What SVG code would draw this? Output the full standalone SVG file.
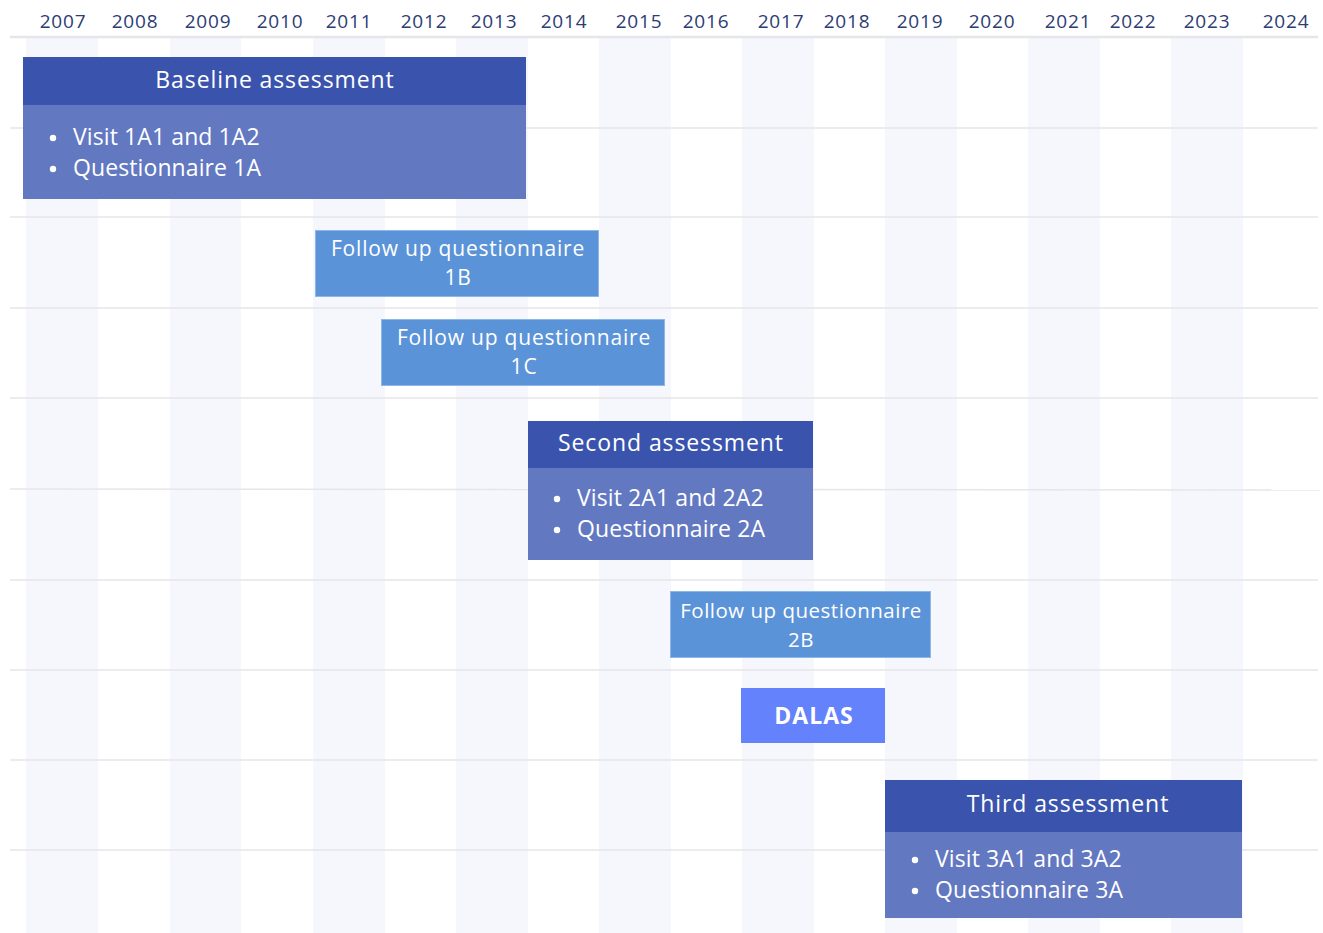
<svg xmlns="http://www.w3.org/2000/svg" width="1323" height="933" viewBox="0 0 1323 933">
<style>
.yr{font-family:"Open Sans","Liberation Sans",sans-serif;font-size:19px;letter-spacing:0.8px;fill:#2c3c74;text-anchor:middle}
.stripe{fill:#f5f7fd}
.grid{stroke:#e6e6e9;stroke-width:1.5}
.hdr{fill:#3a54ad}
.body{fill:#5d74bf;fill-opacity:0.97}
.fu{fill:#5b93d8;stroke:#8fb6ea;stroke-width:1}
.t{font-family:"Open Sans","Liberation Sans",sans-serif;fill:#ffffff}
.title{font-size:23px;letter-spacing:0.9px;text-anchor:middle}
.bl{font-size:23px;letter-spacing:0.1px}
.fut{font-size:21px;letter-spacing:0.8px;text-anchor:middle}
.fut2{font-size:20.5px;letter-spacing:0.5px;text-anchor:middle}
.dot{fill:#ffffff}
</style>
<rect width="1323" height="933" fill="#ffffff"/>
<g id="stripes">
<rect class="stripe" x="26" y="38" width="72" height="895"/>
<rect class="stripe" x="170" y="38" width="71" height="895"/>
<rect class="stripe" x="313" y="38" width="72" height="895"/>
<rect class="stripe" x="456" y="38" width="72" height="895"/>
<rect class="stripe" x="599" y="38" width="72" height="895"/>
<rect class="stripe" x="742" y="38" width="72" height="895"/>
<rect class="stripe" x="885" y="38" width="72" height="895"/>
<rect class="stripe" x="1028" y="38" width="72" height="895"/>
<rect class="stripe" x="1171" y="38" width="72" height="895"/>
</g>
<g id="gridlines">
<line x1="10" y1="37" x2="1318" y2="37" stroke="#e6e6ea" stroke-width="2.5"/>
<line class="grid" x1="10" y1="128" x2="1318" y2="128"/>
<line class="grid" x1="10" y1="217" x2="1318" y2="217"/>
<line class="grid" x1="10" y1="308" x2="1318" y2="308"/>
<line class="grid" x1="10" y1="398" x2="1318" y2="398"/>
<line class="grid" x1="10" y1="489" x2="1320" y2="490"/>
<line class="grid" x1="10" y1="580" x2="1318" y2="580"/>
<line class="grid" x1="10" y1="670" x2="1318" y2="670"/>
<line class="grid" x1="10" y1="760" x2="1318" y2="760"/>
<line class="grid" x1="10" y1="850" x2="1318" y2="850"/>
</g>
<g id="years">
<text class="yr" x="63" y="28">2007</text>
<text class="yr" x="135" y="28">2008</text>
<text class="yr" x="208" y="28">2009</text>
<text class="yr" x="280" y="28">2010</text>
<text class="yr" x="349" y="28">2011</text>
<text class="yr" x="424" y="28">2012</text>
<text class="yr" x="494" y="28">2013</text>
<text class="yr" x="564" y="28">2014</text>
<text class="yr" x="639" y="28">2015</text>
<text class="yr" x="706" y="28">2016</text>
<text class="yr" x="781" y="28">2017</text>
<text class="yr" x="847" y="28">2018</text>
<text class="yr" x="920" y="28">2019</text>
<text class="yr" x="992" y="28">2020</text>
<text class="yr" x="1068" y="28">2021</text>
<text class="yr" x="1133" y="28">2022</text>
<text class="yr" x="1207" y="28">2023</text>
<text class="yr" x="1286" y="28">2024</text>
</g>
<g id="baseline">
<rect class="hdr" x="23" y="57" width="503" height="48"/>
<rect class="body" x="23" y="105" width="503" height="94"/>
<text class="t title" x="275" y="88">Baseline assessment</text>
<circle class="dot" cx="53" cy="138" r="3.2"/>
<circle class="dot" cx="53" cy="169" r="3.2"/>
<text class="t bl" x="73" y="145">Visit 1A1 and 1A2</text>
<text class="t bl" x="73" y="176">Questionnaire 1A</text>
</g>
<g id="followup-1b">
<rect class="fu" x="315.5" y="230.5" width="283" height="66"/>
<text class="t fut" x="458" y="256">Follow up questionnaire</text>
<text class="t fut" x="458" y="285">1B</text>
</g>
<g id="followup-1c">
<rect class="fu" x="381.5" y="319.5" width="283" height="66"/>
<text class="t fut" x="524" y="345">Follow up questionnaire</text>
<text class="t fut" x="524" y="374">1C</text>
</g>
<g id="second">
<rect class="hdr" x="528" y="421" width="285" height="47"/>
<rect class="body" x="528" y="468" width="285" height="92"/>
<text class="t title" x="671" y="451">Second assessment</text>
<circle class="dot" cx="557" cy="499" r="3.2"/>
<circle class="dot" cx="557" cy="530" r="3.2"/>
<text class="t bl" x="577" y="506">Visit 2A1 and 2A2</text>
<text class="t bl" x="577" y="537">Questionnaire 2A</text>
</g>
<g id="followup-2b">
<rect class="fu" x="670.5" y="591.5" width="260" height="66"/>
<text class="t fut2" x="801" y="618">Follow up questionnaire</text>
<text class="t fut2" x="801" y="647">2B</text>
</g>
<g id="dalas">
<rect x="741" y="688" width="144" height="55" fill="#6482fb"/>
<text class="t" x="814" y="724" font-size="23" font-weight="bold" letter-spacing="1" text-anchor="middle">DALAS</text>
</g>
<g id="third">
<rect class="hdr" x="885" y="780" width="357" height="52"/>
<rect class="body" x="885" y="832" width="357" height="86"/>
<text class="t title" x="1068" y="812">Third assessment</text>
<circle class="dot" cx="915" cy="860" r="3.2"/>
<circle class="dot" cx="915" cy="891" r="3.2"/>
<text class="t bl" x="935" y="867">Visit 3A1 and 3A2</text>
<text class="t bl" x="935" y="898">Questionnaire 3A</text>
</g>
<g id="connectors"/>
</svg>
